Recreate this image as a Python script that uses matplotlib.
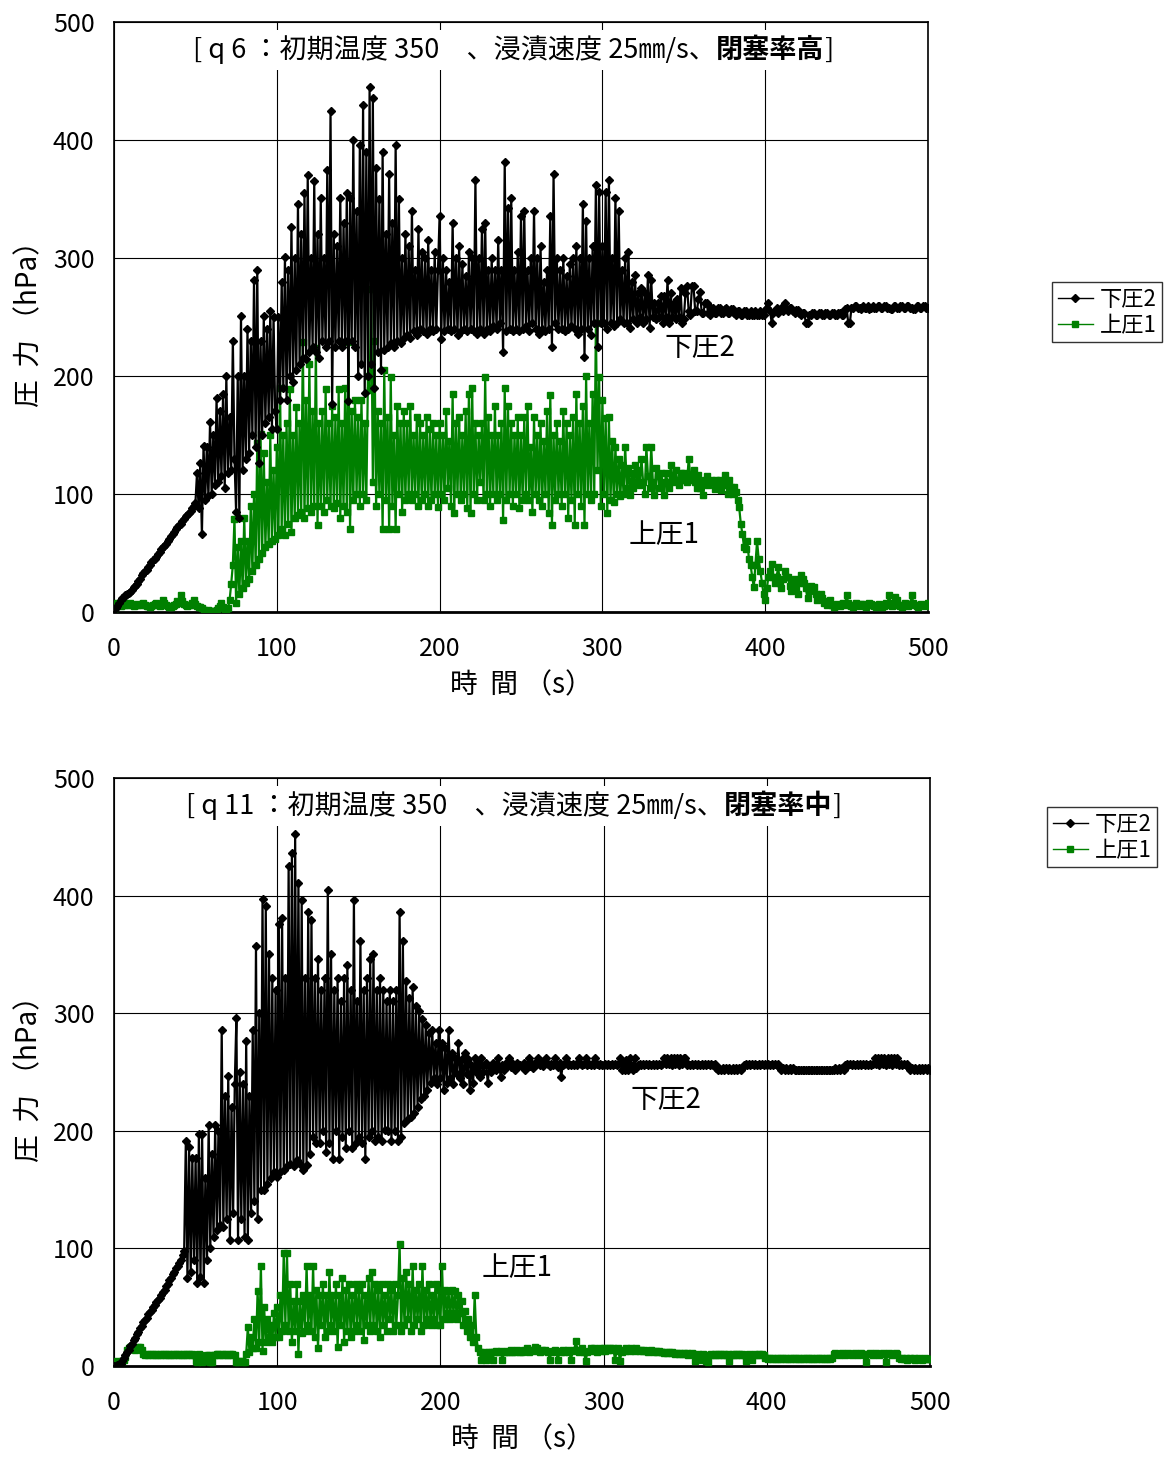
import numpy as np
import matplotlib
matplotlib.use("Agg")
import matplotlib.pyplot as plt
from matplotlib.lines import Line2D
from matplotlib.offsetbox import TextArea, HPacker, AnnotationBbox

plt.rcParams['font.family'] = ['Noto Sans CJK JP', 'DejaVu Sans']

# sample times (s), one reading per second
t = np.arange(0, 501)

# q6 run: lower pressure 2 (hPa), 25 s per row
q6_lower2 = [
    2, 3, 5, 8, 10, 12, 13, 14, 15, 16, 17, 19, 21, 22, 24, 26, 28, 31, 33, 35, 36, 38, 40, 42, 44,
    45, 47, 49, 51, 53, 55, 56, 58, 60, 62, 64, 66, 68, 70, 72, 74, 75, 77, 79, 81, 82, 84, 86, 88, 90,
    92, 118, 88, 126, 66, 141, 95, 140, 98, 161, 100, 150, 108, 181, 110, 170, 115, 185, 105, 200, 118, 165, 120, 230, 130,
    85, 200, 80, 251, 120, 200, 130, 240, 135, 230, 150, 281, 140, 290, 126, 230, 150, 251, 160, 240, 165, 255, 155, 250, 170,
    155, 250, 180, 280, 190, 301, 180, 290, 200, 326, 195, 300, 205, 346, 210, 320, 215, 355, 214, 370, 220, 300, 225, 365, 220,
    320, 215, 351, 230, 300, 225, 375, 230, 425, 176, 320, 225, 310, 230, 351, 225, 330, 230, 355, 179, 351, 230, 400, 225, 340,
    200, 396, 210, 430, 186, 390, 200, 445, 210, 436, 190, 376, 220, 350, 205, 390, 222, 320, 225, 371, 228, 330, 225, 396, 230,
    350, 228, 300, 232, 320, 235, 310, 232, 340, 238, 290, 235, 325, 240, 305, 238, 300, 236, 315, 240, 290, 238, 305, 240, 290,
    336, 231, 300, 238, 290, 240, 280, 238, 330, 240, 300, 235, 310, 238, 295, 240, 285, 238, 305, 240, 300, 238, 366, 236, 300,
    240, 325, 236, 330, 240, 290, 238, 300, 242, 290, 240, 315, 245, 290, 220, 381, 238, 342, 240, 351, 238, 290, 240, 305, 238,
    336, 240, 340, 242, 290, 238, 300, 245, 340, 240, 300, 236, 310, 240, 280, 238, 290, 240, 336, 225, 371, 245, 300, 240, 290,
    240, 300, 238, 285, 240, 295, 242, 300, 240, 310, 236, 300, 240, 346, 216, 331, 240, 300, 235, 310, 245, 362, 225, 356, 245,
    310, 245, 356, 240, 366, 245, 300, 242, 351, 245, 340, 248, 290, 245, 300, 245, 305, 241, 280, 248, 286, 245, 270, 250, 275,
    245, 270, 248, 286, 241, 281, 250, 262, 248, 262, 250, 268, 245, 268, 250, 281, 245, 270, 250, 262, 248, 265, 250, 275, 245,
    248, 270, 276, 255, 252, 276, 276, 255, 255, 265, 271, 253, 253, 262, 262, 253, 252, 258, 258, 253, 253, 258, 258, 253, 253,
    257, 258, 253, 253, 257, 257, 253, 252, 255, 255, 252, 252, 255, 255, 252, 252, 255, 252, 252, 255, 252, 252, 255, 252, 252,
    256, 258, 262, 255, 245, 253, 255, 258, 253, 256, 258, 255, 262, 258, 255, 258, 258, 255, 253, 256, 256, 253, 252, 253, 253,
    245, 245, 252, 252, 253, 253, 252, 252, 253, 253, 252, 252, 253, 253, 252, 252, 253, 253, 252, 252, 253, 253, 252, 252, 257,
    258, 245, 245, 258, 258, 259, 259, 258, 258, 257, 259, 258, 258, 259, 257, 258, 259, 258, 258, 259, 259, 258, 258, 259, 259,
    258, 258, 257, 257, 259, 259, 258, 258, 259, 259, 258, 258, 259, 259, 258, 258, 257, 257, 259, 259, 258, 258, 259, 259, 258,
    258,
]

# q6 run: upper pressure 1 (hPa)
q6_upper1 = [
    2, 5, 8, 6, 5, 7, 8, 6, 6, 7, 8, 6, 5, 6, 7, 6, 6, 7, 8, 6, 5, 5, 4, 5, 6,
    7, 8, 6, 5, 6, 10, 8, 6, 5, 4, 4, 5, 6, 7, 9, 8, 14, 9, 7, 6, 5, 6, 6, 8, 10,
    7, 5, 4, 4, 3, 2, 1, 1, 2, 1, 1, 1, 0, 2, 3, 5, 8, 4, 2, 1, 3, 10, 24, 40, 79,
    8, 55, 15, 60, 20, 80, 25, 60, 28, 90, 35, 100, 40, 143, 45, 151, 50, 135, 55, 110, 58, 150, 60, 120, 62,
    140, 65, 190, 70, 150, 65, 160, 75, 189, 68, 150, 80, 174, 82, 160, 85, 229, 80, 180, 88, 210, 85, 170, 90, 224,
    74, 160, 90, 170, 85, 189, 95, 160, 90, 175, 88, 165, 92, 189, 80, 160, 90, 190, 85, 229, 70, 170, 95, 180, 100,
    165, 90, 180, 100, 160, 95, 200, 188, 274, 110, 230, 90, 170, 100, 160, 70, 205, 95, 165, 70, 199, 90, 150, 70, 175,
    100, 160, 85, 170, 95, 160, 100, 175, 95, 150, 100, 165, 90, 160, 95, 150, 100, 165, 90, 155, 95, 160, 100, 150, 89,
    160, 100, 150, 95, 170, 105, 145, 90, 185, 84, 160, 100, 165, 95, 150, 100, 170, 88, 185, 84, 190, 100, 160, 95, 150,
    110, 160, 95, 199, 100, 165, 90, 150, 100, 175, 95, 150, 100, 160, 78, 190, 95, 175, 100, 160, 90, 150, 100, 165, 88,
    150, 95, 165, 100, 175, 95, 140, 85, 165, 100, 150, 95, 160, 90, 145, 100, 170, 84, 184, 74, 150, 95, 160, 100, 145,
    90, 170, 100, 160, 80, 150, 95, 165, 74, 185, 100, 160, 90, 175, 74, 200, 100, 160, 95, 185, 100, 245, 120, 199, 90,
    180, 100, 164, 84, 165, 95, 145, 93, 140, 100, 130, 98, 125, 100, 140, 105, 122, 99, 118, 105, 125, 110, 120, 108, 130,
    110, 100, 140, 115, 105, 140, 110, 99, 122, 115, 105, 118, 110, 99, 118, 110, 105, 125, 115, 110, 120, 112, 108, 118, 112,
    118, 112, 110, 130, 115, 112, 120, 110, 105, 116, 105, 110, 99, 112, 115, 108, 110, 112, 110, 104, 112, 108, 112, 103, 110,
    116, 108, 100, 112, 106, 100, 106, 102, 95, 89, 75, 66, 55, 53, 60, 45, 40, 30, 21, 40, 60, 45, 35, 25, 15,
    10, 20, 30, 35, 41, 30, 25, 30, 38, 25, 20, 28, 35, 30, 30, 22, 18, 25, 28, 20, 15, 25, 31, 28, 25,
    20, 12, 18, 22, 20, 21, 15, 10, 12, 15, 12, 8, 9, 6, 8, 10, 6, 4, 5, 7, 6, 5, 7, 8, 6,
    14, 8, 6, 5, 4, 6, 8, 6, 5, 7, 7, 5, 4, 6, 8, 7, 6, 5, 4, 5, 7, 6, 4, 5, 8,
    6, 14, 8, 5, 6, 13, 10, 6, 5, 4, 6, 8, 6, 5, 7, 14, 8, 6, 5, 4, 6, 7, 6, 5, 6,
    8,
]

# q11 run: lower pressure 2 (hPa)
q11_lower2 = [
    0, 0, 1, 1, 2, 4, 7, 9, 12, 14, 17, 19, 22, 24, 27, 29, 32, 34, 37, 39, 41, 44, 46, 48, 50,
    52, 54, 56, 58, 60, 63, 65, 68, 70, 73, 75, 78, 80, 83, 85, 88, 90, 94, 98, 191, 75, 186, 80, 177, 90,
    177, 71, 197, 76, 197, 71, 160, 90, 205, 100, 180, 110, 205, 116, 200, 120, 286, 118, 230, 125, 247, 107, 220, 130, 240,
    296, 107, 250, 125, 240, 110, 276, 107, 230, 130, 286, 140, 357, 125, 300, 150, 397, 150, 391, 155, 350, 160, 330, 165, 320,
    161, 376, 165, 381, 167, 330, 170, 425, 172, 436, 170, 452, 175, 411, 172, 396, 167, 330, 171, 386, 180, 379, 195, 330, 190,
    346, 190, 320, 200, 330, 182, 405, 190, 350, 176, 320, 200, 330, 176, 310, 195, 330, 185, 341, 200, 320, 185, 396, 190, 310,
    195, 361, 190, 320, 176, 330, 195, 346, 200, 350, 191, 320, 195, 330, 191, 320, 201, 310, 200, 320, 191, 310, 200, 320, 191,
    386, 195, 361, 207, 327, 210, 313, 212, 322, 215, 306, 220, 302, 227, 295, 230, 290, 235, 283, 241, 286, 245, 275, 240, 286,
    245, 275, 235, 270, 241, 286, 245, 266, 240, 262, 248, 275, 245, 261, 240, 266, 248, 261, 235, 256, 241, 262, 250, 258, 246,
    262, 250, 256, 258, 241, 255, 250, 258, 254, 252, 262, 255, 246, 256, 252, 258, 255, 262, 254, 258, 256, 252, 258, 255, 256,
    255, 258, 252, 256, 262, 255, 257, 253, 258, 257, 262, 256, 258, 255, 258, 262, 257, 255, 257, 256, 262, 257, 254, 258, 246,
    256, 257, 262, 256, 257, 256, 257, 256, 257, 256, 262, 257, 256, 257, 262, 256, 257, 256, 257, 256, 262, 257, 256, 257, 256,
    256, 257, 256, 257, 256, 257, 256, 257, 256, 257, 262, 252, 257, 252, 260, 252, 262, 256, 252, 262, 253, 256, 257, 256, 257,
    256, 257, 256, 257, 256, 257, 256, 257, 256, 257, 256, 257, 262, 257, 262, 257, 262, 256, 262, 257, 262, 256, 262, 257, 262,
    262, 256, 257, 256, 257, 256, 257, 256, 257, 256, 257, 256, 257, 256, 257, 256, 257, 256, 257, 253, 252, 253, 252, 253, 252,
    253, 252, 253, 252, 253, 252, 253, 252, 253, 252, 253, 256, 257, 256, 257, 256, 257, 256, 257, 256, 257, 256, 257, 256, 257,
    256, 257, 256, 257, 256, 257, 256, 257, 253, 252, 253, 252, 253, 252, 253, 252, 253, 252, 252, 252, 252, 252, 252, 252, 252,
    252, 252, 252, 252, 252, 252, 252, 252, 252, 252, 252, 252, 252, 252, 252, 252, 252, 253, 252, 253, 252, 253, 252, 256, 257,
    256, 257, 256, 257, 256, 257, 256, 257, 256, 257, 256, 257, 256, 257, 256, 257, 262, 257, 262, 256, 262, 257, 262, 256, 262,
    257, 262, 256, 262, 257, 262, 256, 257, 256, 257, 256, 257, 253, 252, 253, 252, 253, 252, 253, 252, 253, 252, 253, 252, 253,
    252,
]

# q11 run: upper pressure 1 (hPa)
q11_upper1 = [
    2, 3, 4, 3, 3, 4, 5, 8, 14, 15, 16, 15, 15, 14, 15, 16, 16, 14, 10, 9, 10, 9, 10, 9, 10,
    9, 10, 9, 10, 9, 10, 9, 10, 9, 10, 9, 10, 9, 10, 9, 10, 9, 10, 9, 10, 9, 10, 9, 10, 9,
    4, 3, 10, 9, 3, 4, 4, 9, 9, 3, 3, 9, 9, 10, 10, 9, 9, 10, 10, 9, 9, 10, 10, 9, 9,
    3, 3, 4, 4, 3, 3, 10, 33, 12, 25, 15, 40, 15, 64, 20, 85, 13, 50, 20, 40, 25, 35, 20, 45, 25,
    50, 25, 60, 30, 96, 35, 96, 30, 70, 20, 55, 30, 70, 10, 55, 28, 60, 30, 85, 35, 60, 30, 85, 25, 65,
    15, 60, 35, 70, 25, 60, 30, 80, 35, 60, 30, 70, 16, 60, 35, 75, 20, 65, 30, 70, 25, 60, 30, 70, 35,
    65, 30, 70, 22, 60, 35, 75, 30, 80, 35, 70, 30, 65, 25, 70, 35, 60, 30, 70, 40, 65, 30, 70, 35, 60,
    104, 30, 75, 35, 80, 40, 70, 30, 85, 35, 65, 40, 70, 30, 85, 35, 65, 40, 70, 35, 60, 40, 70, 35, 65,
    35, 85, 40, 65, 45, 64, 40, 65, 45, 64, 40, 60, 45, 55, 35, 47, 30, 40, 25, 35, 20, 60, 25, 15, 12,
    5, 10, 12, 5, 10, 12, 12, 5, 12, 13, 12, 12, 13, 5, 12, 12, 13, 12, 14, 12, 13, 12, 14, 13, 12,
    12, 14, 13, 15, 12, 14, 13, 14, 16, 15, 13, 12, 14, 13, 14, 13, 12, 5, 12, 13, 14, 12, 5, 13, 12,
    14, 12, 13, 14, 12, 5, 13, 14, 21, 14, 12, 14, 15, 12, 4, 12, 13, 15, 14, 15, 13, 12, 14, 15, 13,
    15, 13, 15, 14, 15, 14, 15, 5, 13, 15, 4, 12, 14, 13, 15, 14, 13, 15, 14, 13, 15, 14, 13, 14, 13,
    14, 13, 12, 13, 14, 13, 12, 13, 12, 13, 12, 12, 11, 12, 11, 12, 11, 12, 11, 10, 11, 10, 11, 10, 11,
    10, 11, 9, 10, 11, 10, 4, 9, 10, 9, 5, 10, 9, 4, 3, 9, 10, 9, 10, 9, 10, 9, 10, 9, 10,
    9, 10, 4, 9, 10, 9, 10, 9, 10, 9, 10, 9, 4, 9, 10, 9, 5, 9, 10, 9, 10, 9, 10, 9, 7,
    7, 6, 7, 6, 7, 6, 7, 6, 7, 6, 7, 6, 7, 6, 7, 6, 7, 6, 7, 6, 7, 6, 7, 6, 7,
    6, 7, 6, 7, 6, 7, 6, 7, 6, 7, 6, 7, 6, 7, 6, 7, 10, 11, 10, 9, 10, 11, 10, 9, 10,
    11, 10, 9, 10, 11, 10, 9, 10, 11, 10, 9, 3, 10, 11, 10, 9, 10, 11, 10, 9, 10, 11, 10, 3, 10,
    11, 10, 9, 10, 11, 10, 7, 6, 7, 6, 7, 5, 6, 7, 6, 7, 5, 6, 7, 6, 5, 6, 7, 6, 6,
    6,
]

for series in (q6_lower2, q6_upper1, q11_lower2, q11_upper1):
    assert len(series) == len(t), len(series)

ticks = [0, 100, 200, 300, 400, 500]
GREEN = '#008000'
FS = 18


def draw_panel(ax, lower2, upper1, run_label, rate_label, lbl2_xy, lbl1_xy):
    ax.plot(t, lower2, color='black', lw=1.6, marker='D', ms=4.5,
            mfc='black', mec='black', zorder=4)
    ax.plot(t, upper1, color=GREEN, lw=1.6, marker='s', ms=5,
            mfc=GREEN, mec=GREEN, zorder=3)
    ax.set_xlim(0, 500)
    ax.set_ylim(0, 500)
    ax.set_xticks(ticks)
    ax.set_yticks(ticks)
    ax.grid(True, color='black', lw=0.8)
    ax.set_axisbelow(True)
    ax.tick_params(length=0, labelsize=FS)
    ax.tick_params(axis='x', pad=17)
    ax.tick_params(axis='y', pad=14)
    for sp in ax.spines.values():
        sp.set_linewidth(1.2)
    ax.spines['bottom'].set_linewidth(2.0)
    ax.set_xlabel('時  間 （s）', fontsize=20, labelpad=6)
    ax.set_ylabel('圧  力 （hPa）', fontsize=20, labelpad=6)

    # heading with the bold blockage rate, on a white box over the grid
    parts = [
        TextArea(run_label + '：初期温度 350　、浸漬速度 25㎜/s、', textprops=dict(fontsize=19.5)),
        TextArea(rate_label, textprops=dict(fontsize=19.5, fontweight='bold')),
        TextArea(']', textprops=dict(fontsize=19.5)),
    ]
    box = HPacker(children=parts, align='baseline', pad=0, sep=0)
    ab = AnnotationBbox(box, (0.49, 0.953), xycoords='axes fraction',
                        box_alignment=(0.5, 0.5), pad=0.4, frameon=True,
                        bboxprops=dict(facecolor='white', edgecolor='none'), zorder=5)
    ax.add_artist(ab)

    ax.text(*lbl2_xy, '下圧2', fontsize=20, ha='center', va='center', zorder=6)
    ax.text(*lbl1_xy, '上圧1', fontsize=20, ha='center', va='center', zorder=6)


fig = plt.figure(figsize=(11.66, 14.57), dpi=100)
ax1 = fig.add_axes([114 / 1166, 1 - 612 / 1457, 814 / 1166, 590 / 1457])
ax2 = fig.add_axes([114 / 1166, 1 - 1366 / 1457, 816 / 1166, 588 / 1457])

draw_panel(ax1, q6_lower2, q6_upper1, '[ q 6 ', '閉塞率高', (360, 224), (338, 65))
draw_panel(ax2, q11_lower2, q11_upper1, '[ q 11 ', '閉塞率中', (338, 226), (247, 83))

# legend keys drawn thinner than the data traces
keys = [Line2D([], [], color='black', lw=1.0, marker='D', ms=4, label='下圧2'),
        Line2D([], [], color=GREEN, lw=1.0, marker='s', ms=4.5, label='上圧1')]
for anchor in ((1052 / 1166, 1 - 282 / 1457), (1047 / 1166, 1 - 807 / 1457)):
    leg = fig.legend(handles=keys, loc='upper left', bbox_to_anchor=anchor,
                     fontsize=16, frameon=True, fancybox=False, edgecolor='black',
                     handlelength=1.6, handletextpad=0.3, borderpad=0.25,
                     labelspacing=0.15, borderaxespad=0)
    leg.get_frame().set_linewidth(1.0)

fig.savefig('out.png', dpi=100)
